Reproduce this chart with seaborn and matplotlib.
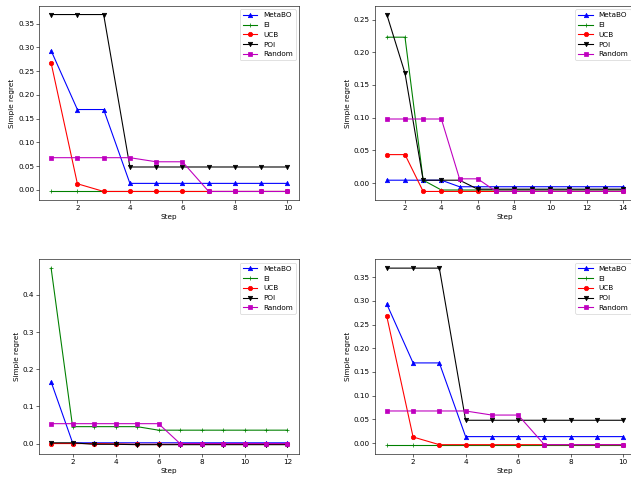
import matplotlib
matplotlib.use("Agg")
import matplotlib.pyplot as plt
import seaborn as sns
import numpy as np

methods = ["MetaBO", "EI", "UCB", "POI", "Random"]
colors = ["b", "g", "r", "k", "m"]
markers = ["^", "+", "o", "v", "s"]

# Panel A (top-left and bottom-right): 10 steps
steps_a = list(range(1, 11))
metabo_a = [0.293, 0.169, 0.169, 0.0135, 0.0135, 0.0135, 0.0135, 0.0135, 0.0135, 0.0135]
ei_a = [-0.0035] * 10
ucb_a = [0.267, 0.0127, -0.0035, -0.0035, -0.0035, -0.0035, -0.0035, -0.0035, -0.0035, -0.0035]
poi_a = [0.369, 0.369, 0.369, 0.048, 0.048, 0.048, 0.048, 0.048, 0.048, 0.048]
random_a = [0.0676, 0.0676, 0.0676, 0.0676, 0.059, 0.059, -0.0035, -0.0035, -0.0035, -0.0035]

# Panel B (top-right): 14 steps
steps_b = list(range(1, 15))
metabo_b = [0.0045, 0.0045, 0.0045, 0.0045] + [-0.0055] * 10
ei_b = [0.223, 0.223, 0.0045] + [-0.0105] * 11
ucb_b = [0.0436, 0.0436] + [-0.0127] * 12
poi_b = [0.2576, 0.168, 0.0045, 0.0045, 0.0045] + [-0.0092] * 9
random_b = [0.098, 0.098, 0.098, 0.098, 0.0066, 0.0066] + [-0.0125] * 8

# Panel C (bottom-left): 12 steps
steps_c = list(range(1, 13))
metabo_c = [0.166] + [0.002] * 11
ei_c = [0.472, 0.0455, 0.0455, 0.0455, 0.0455] + [0.036] * 7
ucb_c = [0.0, 0.0, 0.0, -0.001] + [-0.002] * 8
poi_c = [0.002, 0.002, -0.002, -0.002] + [-0.003] * 8
random_c = [0.0535] * 6 + [0.0] * 6

panels = [
    (steps_a, [metabo_a, ei_a, ucb_a, poi_a, random_a]),
    (steps_b, [metabo_b, ei_b, ucb_b, poi_b, random_b]),
    (steps_c, [metabo_c, ei_c, ucb_c, poi_c, random_c]),
    (steps_a, [metabo_a, ei_a, ucb_a, poi_a, random_a]),
]

W, H = 631, 478
DPI = 52.5
fig = plt.figure(figsize=(W / DPI, H / DPI), dpi=DPI)

rects = [
    [39.3 / W, 1 - 200.3 / H, 260 / W, 194.6 / H],
    [375.0 / W, 1 - 200.3 / H, 260 / W, 194.6 / H],
    [39.3 / W, 1 - 453.5 / H, 260 / W, 194.2 / H],
    [375.0 / W, 1 - 453.5 / H, 260 / W, 194.2 / H],
]

for rect, (steps, series) in zip(rects, panels):
    ax = fig.add_axes(rect)
    for name, vals, c, mk in zip(methods, series, colors, markers):
        sns.lineplot(x=steps, y=vals, ax=ax, color=c, marker=mk, label=name,
                     markeredgecolor=c, markeredgewidth=1.0, markersize=6,
                     linewidth=1.5, legend=False)
    ax.set_xlabel("Step")
    ax.set_ylabel("Simple regret")
    ax.legend(loc="upper right")

fig.savefig("out.png", dpi=DPI)
